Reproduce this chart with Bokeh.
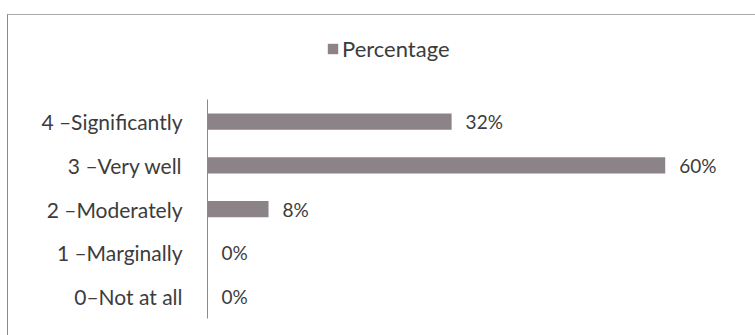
from bokeh.plotting import figure
from bokeh.models import ColumnDataSource, Range1d, Legend, LegendItem, FixedTicker
from bokeh.core.properties import value
from bokeh.embed import file_html
from bokeh.resources import INLINE

categories = ["0–Not at all", "1 –Marginally", "2 –Moderately", "3 –Very well", "4 –Significantly"]
percentages = [0, 0, 8, 60, 32]
labels = ["0%", "0%", "8%", "60%", "32%"]
series_name = "Percentage"

FONT = "Lato"
TEXT = "#3c3c3c"
BAR = "#8b8388"

pos = list(range(len(categories)))
src = ColumnDataSource(dict(pos=pos, cat=categories, val=percentages, lab=labels))

p = figure(width=748, height=321, output_backend="svg", toolbar_location=None,
           y_range=Range1d(-0.5, 6.2), x_range=Range1d(0, 70),
           min_border_left=199, min_border_right=15, min_border_top=10, min_border_bottom=18)
p.styles = {"border-left": "1.5px solid #8a8a8a", "border-top": "1.5px solid #aaaaaa",
            "margin-top": "14px", "margin-left": "7px"}

r = p.hbar(y="pos", right="val", left=0, height=0.37, source=src, fill_color=BAR, line_color=None)
p.text(x="val", y="pos", text="lab", source=src, x_offset=14, text_baseline="middle",
       text_font=value(FONT), text_font_size="19px", text_color=TEXT)

p.xaxis.visible = False
p.xgrid.visible = False
p.ygrid.visible = False
p.outline_line_color = None
p.background_fill_color = None
p.border_fill_color = None

ya = p.yaxis[0]
ya.ticker = FixedTicker(ticks=pos)
ya.major_label_overrides = {i: c for i, c in zip(pos, categories)}
ya.bounds = (-0.5, len(categories) - 0.5)
ya.axis_line_color = "#8a8a8a"
ya.major_tick_line_color = None
ya.minor_tick_line_color = None
ya.major_label_standoff = 19
ya.major_label_text_font = FONT
ya.major_label_text_font_size = "21px"
ya.major_label_text_color = TEXT

legend = Legend(items=[LegendItem(label=series_name, renderers=[r])], location=(119, 256),
                label_text_font=FONT, label_text_font_size="22px", label_text_color=TEXT,
                glyph_width=13, glyph_height=13, background_fill_alpha=0, border_line_color=None,
                label_standoff=3, padding=0, margin=0)
p.add_layout(legend, "center")

open("out.html", "w").write(file_html(p, INLINE))
